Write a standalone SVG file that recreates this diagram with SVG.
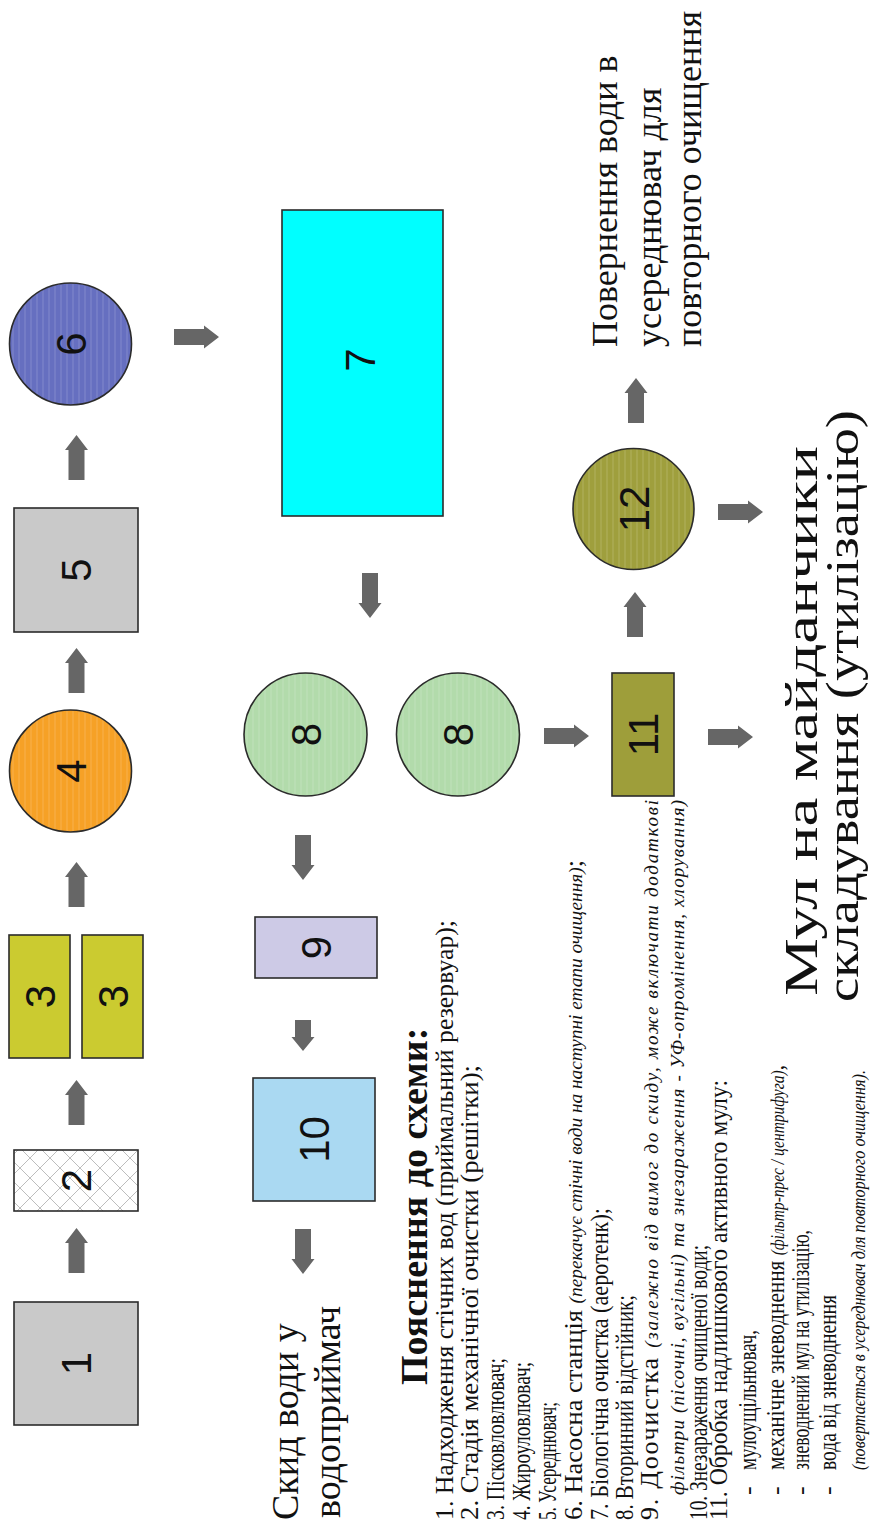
<svg xmlns="http://www.w3.org/2000/svg" width="870" height="1528" viewBox="0 0 870 1528">
<style>
.box{stroke:#2b2b2b;stroke-width:1.6}
.lbl{font-family:"Liberation Sans",Arial,sans-serif;font-size:42px;text-anchor:middle;fill:#111}
.big{font-family:"Liberation Serif","Times New Roman",serif;font-size:36px;fill:#111}
.leg{font-family:"Liberation Serif","Times New Roman",serif;font-size:26px;fill:#111}
.it{font-style:italic;font-size:19px}
.ttl{font-family:"Liberation Serif","Times New Roman",serif;font-size:38px;font-weight:bold;fill:#111}
.arr{fill:#666}
</style>
<defs>
<pattern id="hatch" patternUnits="userSpaceOnUse" width="20" height="20">
<rect width="20" height="20" fill="#ffffff"/>
<path d="M0,0 L20,20 M20,0 L0,20" stroke="#bdbdbd" stroke-width="1"/>
</pattern>
<pattern id="stripes" patternUnits="userSpaceOnUse" width="6" height="6">
<path d="M0,1 H6" stroke="#ffffff" stroke-opacity="0.18" stroke-width="1"/>
</pattern>
<path id="arrL" d="M0,-8 H30 V-11.5 L45,0 L30,11.5 V8 H0 Z"/>
<path id="arrS" d="M0,-8 H17 V-11.5 L31,0 L17,11.5 V8 H0 Z"/>
</defs>
<rect width="870" height="1528" fill="#ffffff"/>
<g id="landscape" transform="matrix(0 -1 1 0 0 1528)">
<g id="connectors" class="arr">
<use href="#arrL" transform="translate(255,76.5)"/>
<use href="#arrL" transform="translate(403,76.5)"/>
<use href="#arrL" transform="translate(621,76.5)"/>
<use href="#arrL" transform="translate(835,76.5)"/>
<use href="#arrL" transform="translate(1048,76.5)"/>
<use href="#arrL" transform="translate(1191,174) rotate(90)"/>
<use href="#arrL" transform="translate(955,370) rotate(180)"/>
<use href="#arrL" transform="translate(693,303) rotate(180)"/>
<use href="#arrS" transform="translate(508,303) rotate(180)"/>
<use href="#arrL" transform="translate(299,303) rotate(180)"/>
<use href="#arrL" transform="translate(792,544) rotate(90)"/>
<use href="#arrL" transform="translate(891,635)"/>
<use href="#arrL" transform="translate(1105,636)"/>
<use href="#arrL" transform="translate(1016,718) rotate(90)"/>
<use href="#arrL" transform="translate(791,708) rotate(90)"/>
</g>
<g id="n1"><rect class="box" x="103" y="14" width="123" height="124" fill="#c9c9c9"/><text class="lbl" x="164.5" y="91">1</text></g>
<g id="n2"><rect class="box" x="317" y="14" width="61" height="124" fill="url(#hatch)"/><text class="lbl" x="347.5" y="91">2</text></g>
<g id="n3a"><rect class="box" x="470" y="9" width="123" height="61" fill="#cbcb30"/><text class="lbl" x="531.5" y="54.5">3</text></g>
<g id="n3b"><rect class="box" x="470" y="82" width="123" height="61" fill="#cbcb30"/><text class="lbl" x="531.5" y="127.5">3</text></g>
<g id="n4"><circle class="box" cx="757" cy="70.5" r="61" fill="#f6a126"/><circle cx="757" cy="70.5" r="60" fill="url(#stripes)"/><text class="lbl" x="757" y="85.5">4</text></g>
<g id="n5"><rect class="box" x="896" y="14" width="124" height="124" fill="#c9c9c9"/><text class="lbl" x="958" y="91">5</text></g>
<g id="n6"><circle class="box" cx="1184" cy="70.5" r="61" fill="#666fc0"/><circle cx="1184" cy="70.5" r="60" fill="url(#stripes)"/><text class="lbl" x="1184" y="85.5">6</text></g>
<g id="n7"><rect class="box" x="1012" y="282" width="306" height="161" fill="#00ffff"/><text class="lbl" x="1168" y="375">7</text></g>
<g id="n8a"><circle class="box" cx="793.5" cy="305.5" r="61.5" fill="#b2dbab"/><circle cx="793.5" cy="305.5" r="60.5" fill="url(#stripes)"/><text class="lbl" x="793.5" y="320.5">8</text></g>
<g id="n8b"><circle class="box" cx="793.5" cy="458" r="61.5" fill="#b2dbab"/><circle cx="793.5" cy="458" r="60.5" fill="url(#stripes)"/><text class="lbl" x="793.5" y="473">8</text></g>
<g id="n9"><rect class="box" x="550" y="255" width="61" height="122" fill="#cdcae6"/><text class="lbl" x="580.5" y="331">9</text></g>
<g id="n10"><rect class="box" x="327" y="253" width="123" height="122" fill="#aad9f2"/><text class="lbl" x="388.5" y="329">10</text></g>
<g id="n11"><rect class="box" x="732" y="612" width="123" height="62" fill="#9e9e3a"/><text class="lbl" x="793.5" y="658">11</text></g>
<g id="n12"><circle class="box" cx="1019" cy="633.5" r="60.5" fill="#9f9f3d"/><circle cx="1019" cy="633.5" r="59.5" fill="url(#stripes)"/><text class="lbl" x="1019" y="648.5">12</text></g>
<g id="out-discharge" class="big" style="font-size:38px"><text x="8" y="298">Скид води у</text><text x="10" y="340">водоприймач</text></g>
<g id="out-return" class="big"><text x="1181" y="617">Повернення води в</text><text x="1181" y="661">усереднювач для</text><text x="1181" y="701">повторного очищення</text></g>
<g id="out-sludge" class="big" style="font-size:46px"><text x="532" y="817" textLength="550" lengthAdjust="spacingAndGlyphs">Мул на майданчики</text><text x="526" y="858" textLength="592" lengthAdjust="spacingAndGlyphs">складування (утилізацію)</text></g>
<g id="legend">
<text class="ttl" x="143" y="427">Пояснення до схеми:</text>
<text class="leg" x="8" y="453" textLength="600" lengthAdjust="spacingAndGlyphs">1. Надходження стічних вод (приймальний резервуар);</text>
<text class="leg" x="8" y="478" textLength="455" lengthAdjust="spacingAndGlyphs">2. Стадія механічної очистки (решітки);</text>
<text class="leg" x="8" y="504" textLength="162" lengthAdjust="spacingAndGlyphs">3. Пісковловлювач;</text>
<text class="leg" x="8" y="530" textLength="158" lengthAdjust="spacingAndGlyphs">4. Жироуловлювач;</text>
<text class="leg" x="8" y="556" textLength="118" lengthAdjust="spacingAndGlyphs">5. Усереднювач;</text>
<text class="leg" x="8" y="582" textLength="660" lengthAdjust="spacingAndGlyphs">6. Насосна станція <tspan class="it">(перекачує стічні води на наступні етапи очищення)</tspan>;</text>
<text class="leg" x="8" y="608" textLength="312" lengthAdjust="spacingAndGlyphs">7. Біологічна очистка (аеротенк);</text>
<text class="leg" x="8" y="633" textLength="225" lengthAdjust="spacingAndGlyphs">8. Вторинний відстійник;</text>
<text class="leg" x="8" y="658" textLength="720" lengthAdjust="spacing">9. Доочистка <tspan class="it">(залежно від вимог до скиду, може включати додаткові</tspan></text>
<text class="leg it" x="33" y="684" textLength="695" lengthAdjust="spacing">фільтри (пісочні, вугільні) та знезараження - УФ-опромінення, хлорування)</text>
<text class="leg" x="8" y="707" textLength="275" lengthAdjust="spacingAndGlyphs">10. Знезараження очищеної води;</text>
<text class="leg" x="8" y="727" textLength="440" lengthAdjust="spacingAndGlyphs">11. Обробка надлишкового активного мулу:</text>
<text class="leg" x="33" y="756">-</text><text class="leg" x="58" y="756" textLength="140" lengthAdjust="spacingAndGlyphs">мулоущільнювач,</text>
<text class="leg" x="33" y="784">-</text><text class="leg" x="58" y="784" textLength="405" lengthAdjust="spacingAndGlyphs">механічне зневоднення <tspan class="it">(фільтр-прес / центрифуга)</tspan>,</text>
<text class="leg" x="33" y="809">-</text><text class="leg" x="58" y="809" textLength="240" lengthAdjust="spacingAndGlyphs">зневоднений мул на утилізацію,</text>
<text class="leg" x="33" y="836">-</text><text class="leg" x="58" y="836" textLength="175" lengthAdjust="spacingAndGlyphs">вода від зневоднення</text>
<text class="leg it" x="58" y="865" textLength="400" lengthAdjust="spacingAndGlyphs">(повертається в усереднювач для повторного очищення).</text>
</g>
</g>
</svg>
